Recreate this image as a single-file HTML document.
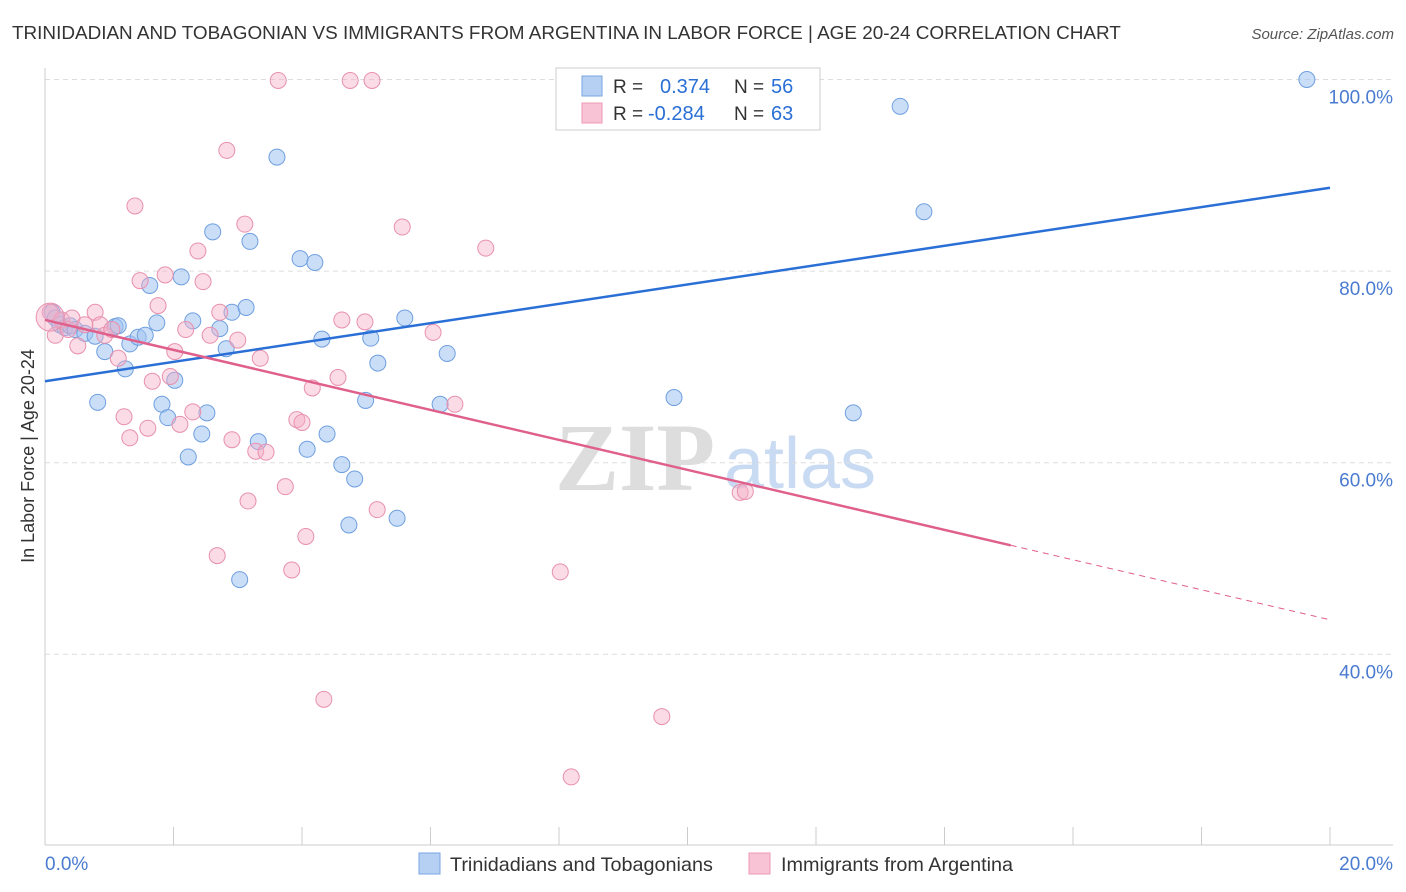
<!DOCTYPE html>
<html><head><meta charset="utf-8">
<style>
body{margin:0;background:#fff;font-family:"Liberation Sans",sans-serif;}
svg{display:block}
</style></head><body>
<svg id="chart" width="1406" height="892" xmlns="http://www.w3.org/2000/svg">
<text x="12" y="39" font-size="18.9" fill="#333">TRINIDADIAN AND TOBAGONIAN VS IMMIGRANTS FROM ARGENTINA IN LABOR FORCE | AGE 20-24 CORRELATION CHART</text>
<text x="1394" y="39" font-size="15" fill="#555" font-style="italic" text-anchor="end">Source: ZipAtlas.com</text>
<g>
<text x="635" y="490" font-size="96" font-family="Liberation Serif,serif" fill="#ddd" text-anchor="middle" font-weight="bold">ZIP</text>
<text x="800" y="488" font-size="72" fill="#c9dbf2" text-anchor="middle">atlas</text>
</g>
<g id="grid"></g>
<g id="axes"></g>
<g id="marks"></g>
<text transform="translate(34,456) rotate(-90)" font-size="18" fill="#333" text-anchor="middle">In Labor Force | Age 20-24</text>
<text x="45" y="870" font-size="19" fill="#4a7bd0">0.0%</text>
<text x="1393" y="870" font-size="19" fill="#4a7bd0" text-anchor="end">20.0%</text>
<g>
<rect x="556" y="68" width="264" height="62" fill="#fff" stroke="#ccc"/>
<rect x="582" y="76" width="20" height="20" fill="#b5d0f3" stroke="#7aa6e4"/>
<rect x="582" y="103" width="20" height="20" fill="#f8c3d4" stroke="#ec98b4"/>
<text x="613" y="93" font-size="19" fill="#333">R =</text>
<text x="660" y="93" font-size="20" fill="#2a6fd6">0.374</text>
<text x="734" y="93" font-size="19" fill="#333">N =</text>
<text x="771" y="93" font-size="20" fill="#2a6fd6">56</text>
<text x="613" y="120" font-size="19" fill="#333">R =</text>
<text x="648" y="120" font-size="20" fill="#2a6fd6">-0.284</text>
<text x="734" y="120" font-size="19" fill="#333">N =</text>
<text x="771" y="120" font-size="20" fill="#2a6fd6">63</text>
</g>
<g>
<rect x="419" y="853" width="21" height="21" fill="#b5d0f3" stroke="#7aa6e4"/>
<text x="450" y="871" font-size="19.8" fill="#333">Trinidadians and Tobagonians</text>
<rect x="749" y="853" width="21" height="21" fill="#f8c3d4" stroke="#ec98b4"/>
<text x="781" y="871" font-size="19.8" fill="#333">Immigrants from Argentina</text>
</g>
</svg>
<script>
const yTicks=[100,80,60,40];
const yTickLabels=["100.0%","80.0%","60.0%","40.0%"];
const xTicks=[0,2,4,6,8,10,12,14,16,18,20];
const blueX=[0.11,0.16,0.23,0.31,0.39,0.47,0.62,0.78,0.82,0.93,1.09,1.14,1.25,1.32,1.45,1.56,1.63,1.74,1.82,1.91,2.02,2.12,2.23,2.30,2.44,2.52,2.61,2.72,2.82,2.91,3.03,3.13,3.19,3.32,3.61,3.97,4.08,4.20,4.31,4.39,4.62,4.73,4.82,4.99,5.07,5.18,5.48,5.60,6.15,6.26,9.79,11.28,12.58,13.31,13.68,19.64];
const blueY=[75.7,75.1,74.4,74.1,74.3,73.9,73.5,73.2,66.3,71.6,74.2,74.3,69.8,72.4,73.1,73.3,78.5,74.6,66.1,64.7,68.6,79.4,60.6,74.8,63.0,65.2,84.1,74.0,71.9,75.7,47.8,76.2,83.1,62.2,91.9,81.3,61.4,80.9,72.9,63.0,59.8,53.5,58.3,66.5,73.0,70.4,54.2,75.1,66.1,71.4,66.8,99.9,65.2,97.2,86.2,100.0];
const pinkX=[0.08,0.16,0.26,0.36,0.42,0.51,0.62,0.78,0.86,0.93,1.04,1.14,1.23,1.32,1.40,1.48,1.60,1.67,1.76,1.87,1.95,2.02,2.10,2.19,2.30,2.38,2.46,2.57,2.68,2.72,2.83,2.91,3.00,3.11,3.16,3.28,3.35,3.44,3.63,3.74,3.84,3.92,4.00,4.06,4.16,4.34,4.56,4.62,4.75,4.98,5.09,5.17,5.56,6.04,6.38,6.86,8.02,8.19,8.95,9.60,10.82,10.90,0.08];
const pinkY=[75.7,73.3,74.9,73.9,75.1,72.2,74.4,75.7,74.4,73.3,73.9,70.9,64.8,62.6,86.8,79.0,63.6,68.5,76.4,79.6,69.0,71.6,64.0,73.9,65.3,82.1,78.9,73.3,50.3,75.7,92.6,62.4,72.8,84.9,56.0,61.2,70.9,61.1,99.9,57.5,48.8,64.5,64.2,52.3,67.8,35.3,68.9,74.9,99.9,74.7,99.9,55.1,84.6,73.6,66.1,82.4,48.6,27.2,99.9,33.5,56.9,57.0,75.2];
const blueTrend=[68.5,88.7];
const pinkTrend=[74.9,43.6];
const pinkSolidEnd=15.03;

const NS="http://www.w3.org/2000/svg";
const X=v=>45+v/20*1285;
const Y=v=>79.5+(100-v)*9.58;
function mk(tag,attrs,parent){const e=document.createElementNS(NS,tag);for(const k in attrs)e.setAttribute(k,attrs[k]);document.getElementById(parent).appendChild(e);return e;}
yTicks.forEach((t,i)=>{
  const l=mk('line',{x1:45,x2:1393,y1:Y(t),y2:Y(t),stroke:'#ddd','stroke-dasharray':'5,4'},'grid');
  
  
  const tx=mk('text',{x:1393,y:Y(t)+24,'font-size':19,fill:'#4a7bd0','text-anchor':'end'},'grid');
  tx.textContent=yTickLabels[i];
  
  
});
const ax=mk('line',{x1:45,x2:45,y1:68,y2:845,stroke:'#ccc'},'axes');


const bx=mk('line',{x1:45,x2:1393,y1:845,y2:845,stroke:'#ccc'},'axes');


xTicks.forEach(t=>{
  const k=mk('line',{x1:X(t),x2:X(t),y1:827,y2:845,stroke:'#ccc'},'axes');
  
  
});
blueX.forEach((x,i)=>{
  const c=mk('circle',{cx:X(x),cy:Y(blueY[i]),r:8,fill:'rgba(160,195,240,0.55)',stroke:'#6e9fe0','stroke-width':1},'marks');
  
  
});
pinkX.forEach((x,i)=>{
  const c=mk('circle',{cx:X(x),cy:Y(pinkY[i]),r:i==pinkX.length-1?14:8,fill:'rgba(245,175,200,0.45)',stroke:'#e890ae','stroke-width':1},'marks');
  
  
});
const bl=mk('line',{x1:X(0),y1:Y(blueTrend[0]),x2:X(20),y2:Y(blueTrend[1]),stroke:'#2a6fd6','stroke-width':2.5},'marks');


const pf=v=>pinkTrend[0]+(pinkTrend[1]-pinkTrend[0])*v/20;
const pl=mk('line',{x1:X(0),y1:Y(pf(0)),x2:X(pinkSolidEnd),y2:Y(pf(pinkSolidEnd)),stroke:'#e0608c','stroke-width':2.5},'marks');


const pd=mk('line',{x1:X(pinkSolidEnd),y1:Y(pf(pinkSolidEnd)),x2:X(20),y2:Y(pf(20)),stroke:'#e0608c','stroke-width':1,'stroke-dasharray':'6,5'},'marks');


</script>
</body></html>
